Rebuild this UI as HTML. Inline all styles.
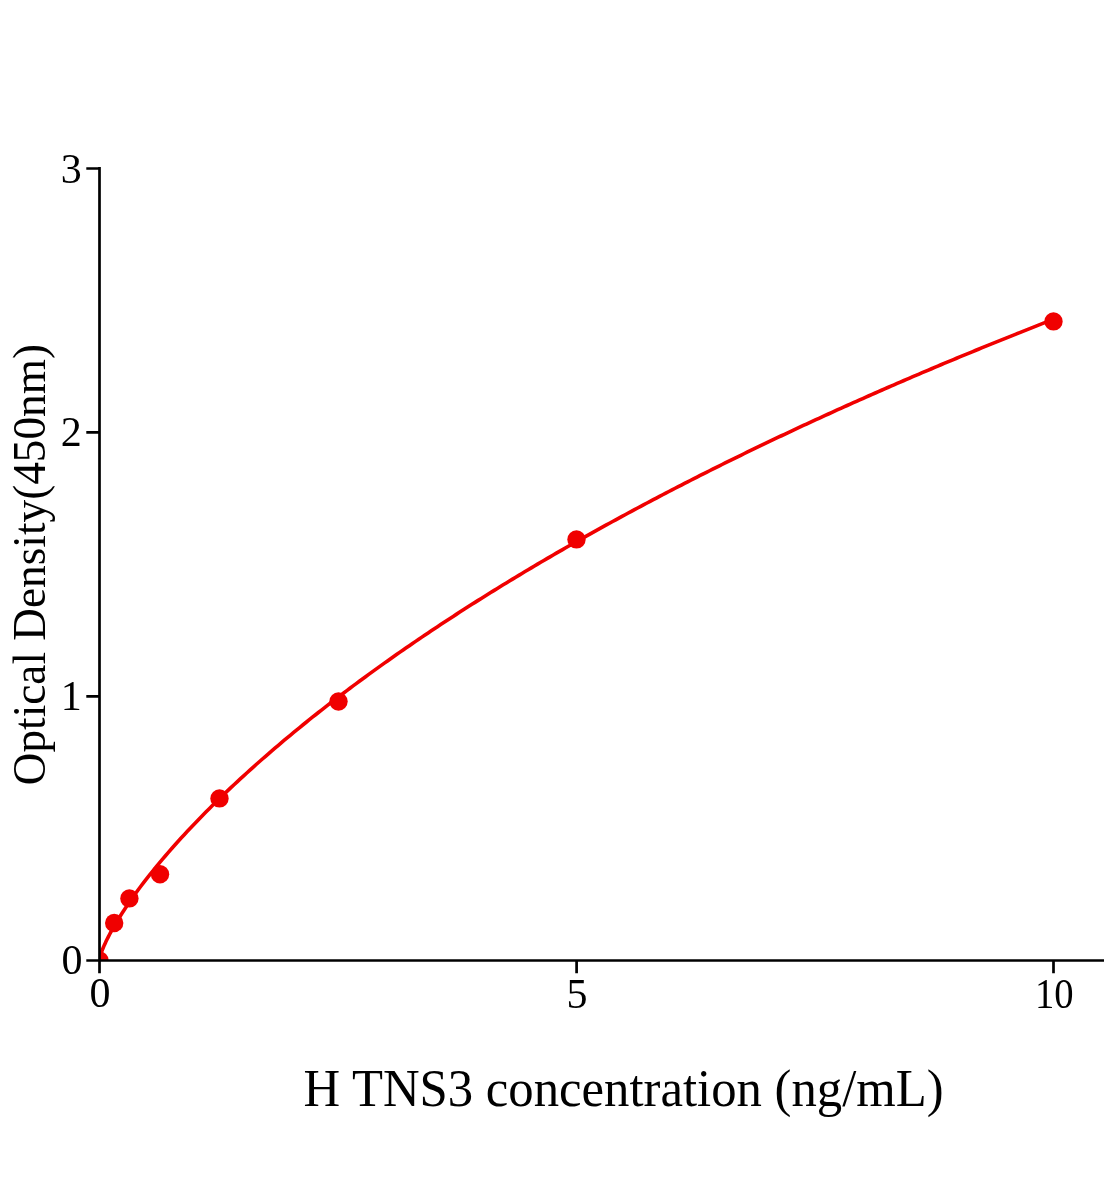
<!DOCTYPE html>
<html><head><meta charset="utf-8"><style>
html,body{margin:0;padding:0;background:#fff;}
body{width:1104px;height:1200px;overflow:hidden;}
svg{display:block;will-change:transform;}
text{font-family:"Liberation Serif",serif;fill:#000;}
</style></head><body>
<svg width="1104" height="1200" viewBox="0 0 1104 1200">
<rect width="1104" height="1200" fill="#fff"/>
<defs><clipPath id="pa"><rect x="99.5" y="0" width="1004.5" height="960.5"/></clipPath></defs>
<g clip-path="url(#pa)">
<path d="M99.50,959.39 L99.99,956.96 L100.48,955.24 L100.97,953.72 L101.46,952.31 L101.95,950.98 L102.44,949.71 L102.92,948.49 L103.41,947.31 L103.90,946.16 L104.39,945.05 L104.88,943.95 L105.37,942.89 L105.86,941.84 L106.35,940.81 L106.84,939.80 L107.33,938.80 L107.82,937.82 L108.31,936.86 L108.80,935.90 L109.28,934.96 L109.77,934.03 L110.26,933.11 L110.75,932.20 L111.24,931.30 L111.73,930.41 L112.22,929.52 L112.71,928.65 L113.20,927.78 L113.69,926.92 L114.18,926.07 L114.67,925.23 L115.16,924.39 L115.64,923.56 L116.13,922.73 L116.62,921.91 L117.11,921.10 L117.60,920.29 L118.09,919.49 L118.58,918.69 L121.71,913.71 L124.83,908.91 L127.96,904.25 L131.09,899.73 L134.21,895.32 L137.34,891.01 L140.47,886.80 L143.59,882.68 L146.72,878.64 L149.85,874.66 L152.98,870.76 L156.10,866.92 L159.23,863.14 L162.36,859.41 L165.48,855.74 L168.61,852.12 L171.74,848.54 L174.86,845.01 L177.99,841.53 L181.12,838.08 L184.24,834.67 L187.37,831.30 L190.50,827.97 L193.62,824.67 L196.75,821.41 L199.88,818.18 L203.00,814.98 L206.13,811.81 L209.26,808.66 L212.38,805.55 L215.51,802.47 L218.64,799.41 L221.77,796.37 L224.89,793.36 L228.02,790.38 L231.15,787.42 L234.27,784.48 L237.40,781.57 L240.53,778.68 L243.65,775.81 L246.78,772.96 L249.91,770.13 L253.03,767.32 L256.16,764.53 L259.29,761.75 L262.41,759.00 L265.54,756.27 L268.67,753.55 L271.79,750.85 L274.92,748.17 L278.05,745.51 L281.17,742.86 L284.30,740.23 L287.43,737.61 L290.56,735.01 L293.68,732.43 L296.81,729.86 L299.94,727.30 L303.06,724.76 L306.19,722.23 L309.32,719.72 L312.44,717.22 L315.57,714.74 L318.70,712.27 L321.82,709.81 L324.95,707.37 L328.08,704.93 L331.20,702.51 L334.33,700.11 L337.46,697.71 L340.58,695.33 L343.71,692.96 L346.84,690.60 L349.96,688.25 L353.09,685.92 L356.22,683.59 L359.35,681.28 L362.47,678.97 L365.60,676.68 L368.73,674.40 L371.85,672.13 L374.98,669.87 L378.11,667.62 L381.23,665.38 L384.36,663.15 L387.49,660.93 L390.61,658.72 L393.74,656.52 L396.87,654.33 L399.99,652.14 L403.12,649.97 L406.25,647.81 L409.37,645.66 L412.50,643.51 L415.63,641.37 L418.75,639.25 L421.88,637.13 L425.01,635.02 L428.14,632.92 L431.26,630.82 L434.39,628.74 L437.52,626.66 L440.64,624.60 L443.77,622.54 L446.90,620.48 L450.02,618.44 L453.15,616.40 L456.28,614.38 L459.40,612.36 L462.53,610.34 L465.66,608.34 L468.78,606.34 L471.91,604.35 L475.04,602.37 L478.16,600.39 L481.29,598.42 L484.42,596.46 L487.55,594.51 L490.67,592.56 L493.80,590.62 L496.93,588.68 L500.05,586.76 L503.18,584.84 L506.31,582.92 L509.43,581.02 L512.56,579.12 L515.69,577.23 L518.81,575.34 L521.94,573.46 L525.07,571.58 L528.19,569.72 L531.32,567.86 L534.45,566.00 L537.57,564.15 L540.70,562.31 L543.83,560.47 L546.95,558.64 L550.08,556.82 L553.21,555.00 L556.34,553.18 L559.46,551.38 L562.59,549.58 L565.72,547.78 L568.84,545.99 L571.97,544.21 L575.10,542.43 L578.22,540.66 L581.35,538.89 L584.48,537.13 L587.60,535.37 L590.73,533.62 L593.86,531.87 L596.98,530.13 L600.11,528.40 L603.24,526.67 L606.36,524.94 L609.49,523.22 L612.62,521.51 L615.74,519.80 L618.87,518.10 L622.00,516.40 L625.13,514.71 L628.25,513.02 L631.38,511.33 L634.51,509.65 L637.63,507.98 L640.76,506.31 L643.89,504.65 L647.01,502.99 L650.14,501.33 L653.27,499.68 L656.39,498.04 L659.52,496.39 L662.65,494.76 L665.77,493.13 L668.90,491.50 L672.03,489.88 L675.15,488.26 L678.28,486.65 L681.41,485.04 L684.53,483.43 L687.66,481.83 L690.79,480.24 L693.92,478.65 L697.04,477.06 L700.17,475.48 L703.30,473.90 L706.42,472.32 L709.55,470.75 L712.68,469.19 L715.80,467.62 L718.93,466.07 L722.06,464.51 L725.18,462.96 L728.31,461.42 L731.44,459.88 L734.56,458.34 L737.69,456.81 L740.82,455.28 L743.94,453.75 L747.07,452.23 L750.20,450.71 L753.33,449.20 L756.45,447.69 L759.58,446.18 L762.71,444.68 L765.83,443.18 L768.96,441.69 L772.09,440.20 L775.21,438.71 L778.34,437.23 L781.47,435.75 L784.59,434.27 L787.72,432.80 L790.85,431.33 L793.97,429.87 L797.10,428.41 L800.23,426.95 L803.35,425.49 L806.48,424.04 L809.61,422.60 L812.73,421.15 L815.86,419.71 L818.99,418.28 L822.12,416.84 L825.24,415.41 L828.37,413.99 L831.50,412.56 L834.62,411.14 L837.75,409.73 L840.88,408.32 L844.00,406.91 L847.13,405.50 L850.26,404.10 L853.38,402.70 L856.51,401.30 L859.64,399.91 L862.76,398.52 L865.89,397.13 L869.02,395.75 L872.14,394.37 L875.27,392.99 L878.40,391.62 L881.52,390.25 L884.65,388.88 L887.78,387.51 L890.91,386.15 L894.03,384.79 L897.16,383.44 L900.29,382.09 L903.41,380.74 L906.54,379.39 L909.67,378.05 L912.79,376.71 L915.92,375.37 L919.05,374.03 L922.17,372.70 L925.30,371.37 L928.43,370.05 L931.55,368.73 L934.68,367.41 L937.81,366.09 L940.93,364.78 L944.06,363.46 L947.19,362.16 L950.31,360.85 L953.44,359.55 L956.57,358.25 L959.70,356.95 L962.82,355.66 L965.95,354.37 L969.08,353.08 L972.20,351.79 L975.33,350.51 L978.46,349.23 L981.58,347.95 L984.71,346.67 L987.84,345.40 L990.96,344.13 L994.09,342.87 L997.22,341.60 L1000.34,340.34 L1003.47,339.08 L1006.60,337.82 L1009.72,336.57 L1012.85,335.32 L1015.98,334.07 L1019.10,332.82 L1022.23,331.58 L1025.36,330.34 L1028.49,329.10 L1031.61,327.86 L1034.74,326.63 L1037.87,325.40 L1040.99,324.17 L1044.12,322.94 L1047.25,321.72 L1050.37,320.50 L1053.50,319.28" fill="none" stroke="#F00000" stroke-width="3.6" stroke-linejoin="round"/>
<g fill="#F00000">
<circle cx="99.5" cy="960.5" r="9.2"/>
<circle cx="114.2" cy="923.0" r="9.2"/>
<circle cx="129.4" cy="898.4" r="9.2"/>
<circle cx="160" cy="874.2" r="9.2"/>
<circle cx="219.5" cy="798.4" r="9.2"/>
<circle cx="338.5" cy="701.5" r="9.2"/>
<circle cx="576.5" cy="539.4" r="9.2"/>
<circle cx="1053.5" cy="321.4" r="9.2"/>
</g>
</g>
<g stroke="#000" stroke-width="2.7" fill="none" stroke-linecap="butt">
<path d="M99.5,167.1 V973.3"/>
<path d="M86.3,960.5 H1104"/>
<path d="M86.3,168.5 H99.5 M86.3,432.4 H99.5 M86.3,696.4 H99.5"/>
<path d="M576.6,960.5 V973.3 M1053.5,960.5 V973.3"/>
</g>
<g font-size="42" text-anchor="end">
<text x="81.7" y="182.5">3</text>
<text x="81.8" y="445.6">2</text>
<text x="81.8" y="709.8">1</text>
<text x="82.5" y="973.9">0</text>
</g>
<g font-size="42" text-anchor="middle">
<text x="100" y="1007">0</text>
<text x="577" y="1008.3">5</text>
<text transform="translate(1054.2,1008.3) scale(0.92,1)">10</text>
</g>
<text transform="translate(303.5,1105.9) scale(0.976,1)" font-size="52">H TNS3 concentration (ng/mL)</text>
<text transform="translate(45.2,785.2) rotate(-90) scale(0.995,1)" font-size="45.5">Optical Density(450nm)</text>
</svg>
</body></html>
